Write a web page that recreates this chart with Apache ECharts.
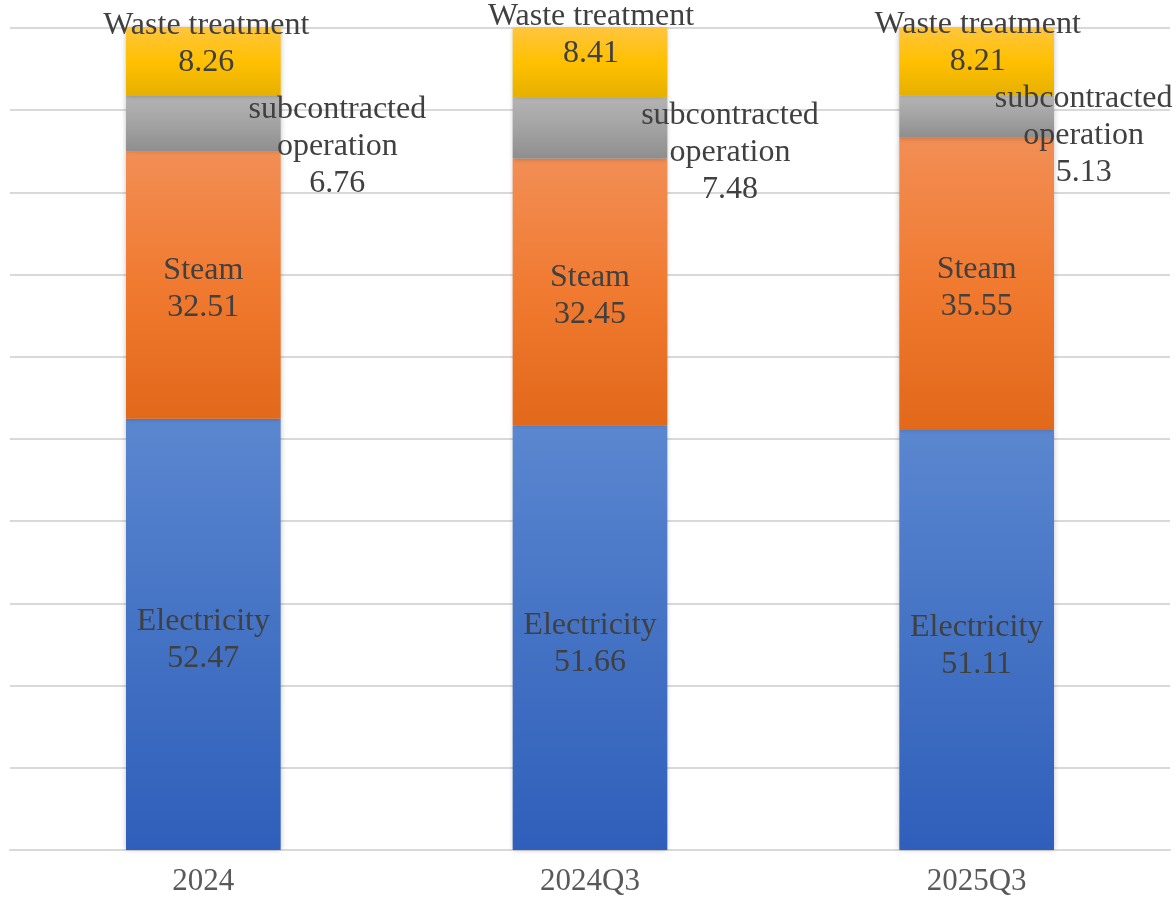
<!DOCTYPE html>
<html>
<head>
<meta charset="utf-8">
<script src="https://cdn.jsdelivr.net/npm/echarts@6/dist/echarts.min.js"></script>
<style>html,body{margin:0;padding:0;background:#fff}#c{width:1176px;height:906px}</style>
</head>
<body>
<div id="c"></div>
<script>
var categories = ['2024', '2024Q3', '2025Q3'];
var electricity = [52.47, 51.66, 51.11];
var steam = [32.51, 32.45, 35.55];
var subcontracted = [6.76, 7.48, 5.13];
var waste = [8.26, 8.41, 8.21];

// label offsets (layout only)
var elecOffsets = [[0, 6], [0, 6], [0, 6]];
var steamOffsets = [[0, 4], [0, 4], [0, 4]];
var subOffsets = [[134, 23], [140, 25], [107, 19]];
var wasteOffsets = [[3, -18], [1, -27], [1, -19]];

function grad(top, mid, bot) {
  return new echarts.graphic.LinearGradient(0, 0, 0, 1, [
    {offset: 0, color: top}, {offset: 0.5, color: mid}, {offset: 1, color: bot}
  ]);
}
var font = '"Liberation Serif","Times New Roman",serif';
var baseLabel = {show: true, position: 'inside', color: '#404040', fontFamily: font, fontSize: 32, lineHeight: 37};
var itemBase = {shadowBlur: 5, shadowColor: 'rgba(0,0,0,0.25)'};

function mkData(vals, offsets) {
  return vals.map(function (v, i) {
    var d = {value: v};
    if (offsets) d.label = {offset: offsets[i]};
    return d;
  });
}

var chart = echarts.init(document.getElementById('c'));
chart.setOption({
  animation: false,
  grid: {left: 10, right: 6, top: 28, bottom: 56},
  xAxis: {
    type: 'category', data: categories,
    axisTick: {show: false},
    axisLine: {lineStyle: {color: '#d9d9d9', width: 2}},
    axisLabel: {color: '#595959', fontFamily: font, fontSize: 31, margin: 16}
  },
  yAxis: {
    type: 'value', min: 0, max: 100, interval: 10,
    axisLabel: {show: false}, axisLine: {show: false}, axisTick: {show: false},
    splitLine: {lineStyle: {color: '#d9d9d9', width: 2}}
  },
  series: [
    {name: 'Electricity', type: 'bar', stack: 's', barWidth: '40%', data: mkData(electricity, elecOffsets),
      itemStyle: Object.assign({color: grad('#5b87d0', '#4472c4', '#2f5fbb')}, itemBase),
      label: Object.assign({formatter: function (p) { return 'Electricity\n' + p.value.toFixed(2); }}, baseLabel)},
    {name: 'Steam', type: 'bar', stack: 's', data: mkData(steam, steamOffsets),
      itemStyle: Object.assign({color: grad('#f28e55', '#f07a30', '#e2681a')}, itemBase),
      label: Object.assign({formatter: function (p) { return 'Steam\n' + p.value.toFixed(2); }}, baseLabel)},
    {name: 'subcontracted operation', type: 'bar', stack: 's', data: mkData(subcontracted, subOffsets),
      itemStyle: Object.assign({color: grad('#b4b4b4', '#a3a3a3', '#8e8e8e')}, itemBase),
      label: Object.assign({formatter: function (p) { return 'subcontracted\noperation\n' + p.value.toFixed(2); }}, baseLabel)},
    {name: 'Waste treatment', type: 'bar', stack: 's', data: mkData(waste, wasteOffsets),
      itemStyle: Object.assign({color: grad('#ffc53d', '#ffc000', '#e6b000')}, itemBase),
      label: Object.assign({formatter: function (p) { return 'Waste treatment\n' + p.value.toFixed(2); }}, baseLabel)}
  ]
});
</script>
</body>
</html>
